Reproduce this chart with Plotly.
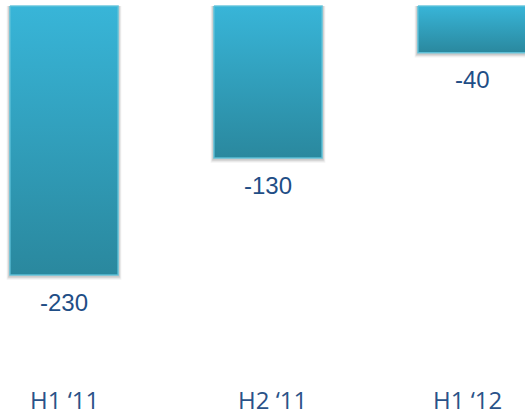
import plotly.graph_objects as go

categories = ["H1 \u201811", "H2 \u201811", "H1 \u201812"]
values = [-230, -130, -40]
value_labels = ["-230", "-130", "-40"]

BAR_W = 0.53
TOP_COLOR = "#38B5D8"
BOTTOM_COLOR = "#2A889E"
LABEL_XSHIFT = [0, 4, -5]

fig = go.Figure()

for i, v in enumerate(values):
    x0, x1 = i - BAR_W / 2, i + BAR_W / 2
    # soft shadow layers
    for k, a in [(4.0, 0.05), (3.0, 0.07), (2.0, 0.09)]:
        dx = 0.004 * k
        fig.add_trace(go.Scatter(
            x=[x0 - dx, x1 + dx, x1 + dx, x0 - dx, x0 - dx],
            y=[0, 0, v - k, v - k, 0],
            fill="toself", mode="lines", line=dict(width=0),
            fillcolor=f"rgba(0,0,0,{a})", hoverinfo="skip", showlegend=False))
    fig.add_trace(go.Scatter(
        x=[x0, x1, x1, x0, x0],
        y=[0, 0, v, v, 0],
        fill="toself", mode="lines",
        line=dict(color="rgba(95,195,218,0.9)", width=1.5),
        fillgradient=dict(type="vertical", start=v, stop=0,
                          colorscale=[[0, BOTTOM_COLOR], [1, TOP_COLOR]]),
        hoverinfo="skip", showlegend=False))
    fig.add_annotation(x=i, y=v, xref="x", yref="y", text=value_labels[i],
                       showarrow=False, yanchor="middle", yshift=-27,
                       font=dict(family="Liberation Sans, Arial", size=24, color="#1F4E86"))
    fig.add_annotation(x=i, y=0, xref="x", yref="paper", text=categories[i],
                       showarrow=False, yanchor="bottom", yshift=-3,
                       xshift=LABEL_XSHIFT[i],
                       font=dict(family="Open Sans", size=24, color="#2A5288"))

fig.update_layout(
    width=525, height=415,
    margin=dict(l=0, r=0, t=0, b=0),
    paper_bgcolor="white", plot_bgcolor="white",
    xaxis=dict(range=[-64 / 204, (525 - 64) / 204], visible=False, fixedrange=True),
    yaxis=dict(range=[-(415 - 6) / 1.17, 6 / 1.17], visible=False, fixedrange=True),
    showlegend=False,
)

fig.write_html(
    "out.html",
    config={"displayModeBar": False},
    post_script="document.body.style.margin='0';document.body.style.overflow='hidden';",
)
